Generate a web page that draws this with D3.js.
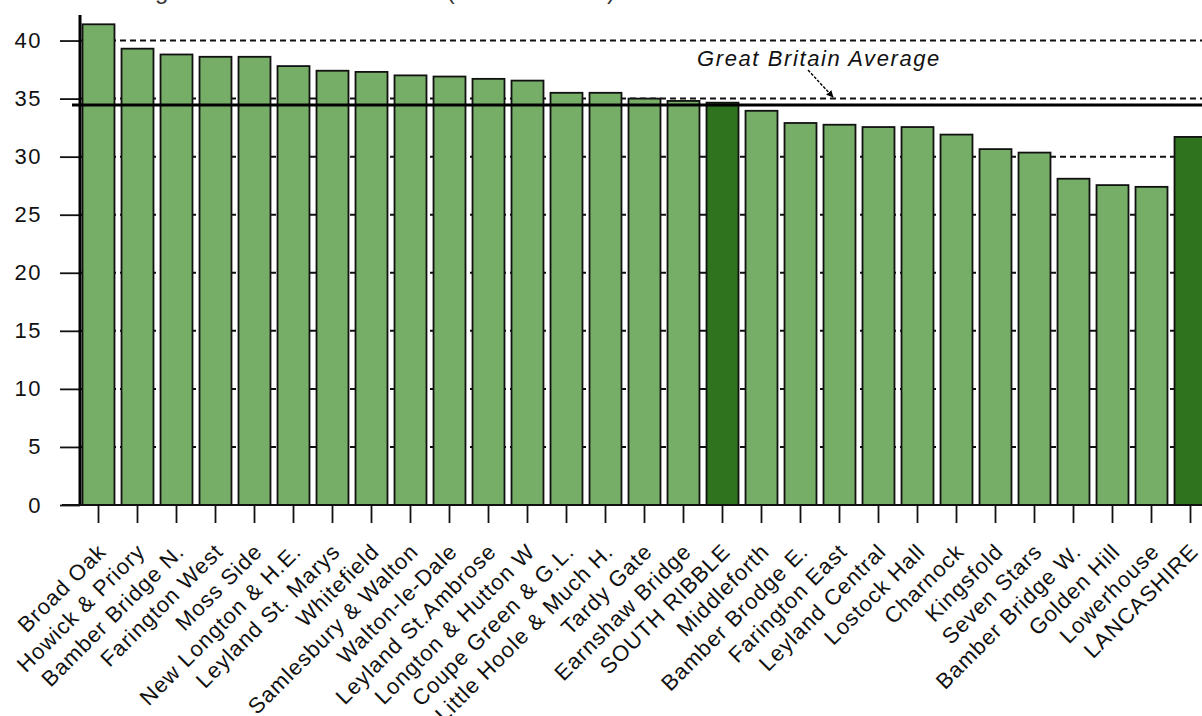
<!DOCTYPE html>
<html lang="en">
<head>
    <meta charset="UTF-8">
    <title>Average Household Income</title>
    <script src="https://d3js.org/d3.v7.min.js"></script>
    <style>
        body { margin: 0; background: white; }
        svg { display: block; font-family: "Liberation Sans", Arial, sans-serif; }
    </style>
</head>
<body>
    <div id="chart"></div>
    <script>
        // Wards (plus district and county) in the order shown
        var wards = ["Broad Oak", "Howick & Priory", "Bamber Bridge N.", "Farington West", "Moss Side",
            "New Longton & H.E.", "Leyland St. Marys", "Whitefield", "Samlesbury & Walton", "Walton-le-Dale",
            "Leyland St.Ambrose", "Longton & Hutton W", "Coupe Green & G.L.", "Little Hoole & Much H.",
            "Tardy Gate", "Earnshaw Bridge", "SOUTH RIBBLE", "Middleforth", "Bamber Brodge E.",
            "Farington East", "Leyland Central", "Lostock Hall", "Charnock", "Kingsfold", "Seven Stars",
            "Bamber Bridge W.", "Golden Hill", "Lowerhouse", "LANCASHIRE"];

        // Average household income, thousands of pounds
        var income = [41.4, 39.3, 38.8, 38.6, 38.6, 37.8, 37.4, 37.3, 37.0, 36.9,
            36.7, 36.55, 35.5, 35.5, 35.0, 34.8, 34.65, 33.95, 32.9, 32.75,
            32.55, 32.55, 31.9, 30.65, 30.35, 28.1, 27.55, 27.4, 31.7];

        // Aggregate rows drawn in darker green
        var highlighted = ["SOUTH RIBBLE", "LANCASHIRE"];

        var yTicks = [0, 5, 10, 15, 20, 25, 30, 35, 40];
        var gbAverage = 34.45;

        var width = 1202, height = 716;
        var svg = d3.select("#chart").append("svg")
            .attr("width", width)
            .attr("height", height);

        var x = d3.scaleBand()
            .domain(wards)
            .range([79, 1210])
            .paddingInner(0.18)
            .paddingOuter(0.09);

        var y = d3.scaleLinear()
            .domain([0, 42.2])
            .range([505, 15]);

        // title, mostly cut off at the top
        svg.append("text")
            .attr("x", 80)
            .attr("y", -1)
            .attr("textLength", 535)
            .attr("lengthAdjust", "spacing")
            .style("font-size", "24px")
            .style("fill", "#333")
            .text("Average Household Income (£thousands)");

        // dashed gridlines behind the bars
        svg.append("g")
            .selectAll("line")
            .data(yTicks.filter(d => d > 0))
            .join("line")
            .attr("x1", 80)
            .attr("x2", width)
            .attr("y1", d => y(d))
            .attr("y2", d => y(d))
            .attr("stroke", "#111")
            .attr("stroke-width", 2)
            .attr("stroke-dasharray", "6,4");

        // bars
        svg.append("g")
            .selectAll("rect")
            .data(wards)
            .join("rect")
            .attr("x", d => x(d))
            .attr("y", (d, i) => y(income[i]))
            .attr("width", x.bandwidth())
            .attr("height", (d, i) => y(0) - y(income[i]))
            .attr("fill", d => highlighted.includes(d) ? "#2f731f" : "#76ae67")
            .attr("stroke", "#111")
            .attr("stroke-width", 1.8);

        // Great Britain average line
        svg.append("line")
            .attr("x1", 72)
            .attr("x2", width)
            .attr("y1", y(gbAverage))
            .attr("y2", y(gbAverage))
            .attr("stroke", "black")
            .attr("stroke-width", 3.2);

        // y axis
        var yAxis = svg.append("g")
            .attr("transform", "translate(80,0)")
            .call(d3.axisLeft(y).tickValues(yTicks).tickSize(20).tickPadding(18));
        yAxis.select(".domain").remove();
        yAxis.selectAll(".tick line").attr("stroke", "#111").attr("stroke-width", 1.8);
        yAxis.selectAll(".tick text")
            .style("font-size", "22px")
            .style("letter-spacing", "1.5px")
            .attr("fill", "#111")
            .attr("font-family", null);
        svg.append("line")
            .attr("x1", 80).attr("x2", 80)
            .attr("y1", y(0)).attr("y2", y(42.2))
            .attr("stroke", "black")
            .attr("stroke-width", 3);

        // x axis
        var xAxis = svg.append("g")
            .attr("transform", "translate(0," + y(0) + ")")
            .call(d3.axisBottom(x).tickSize(18).tickFormat(""));
        xAxis.select(".domain").remove();
        xAxis.selectAll(".tick line").attr("stroke", "#111").attr("stroke-width", 1.8);
        svg.append("line")
            .attr("x1", 62).attr("x2", width)
            .attr("y1", y(0)).attr("y2", y(0))
            .attr("stroke", "#111")
            .attr("stroke-width", 2);

        // rotated ward labels
        svg.append("g")
            .selectAll("text")
            .data(wards)
            .join("text")
            .attr("transform", d => "translate(" + (x(d) + x.bandwidth() / 2 + 9) + ",553) rotate(-45)")
            .attr("text-anchor", "end")
            .style("font-size", "22px")
            .style("letter-spacing", "1px")
            .style("fill", "#111")
            .text(d => d);

        // annotation
        svg.append("defs").append("marker")
            .attr("id", "arrow")
            .attr("viewBox", "0 0 10 10")
            .attr("refX", 9).attr("refY", 5)
            .attr("markerWidth", 5).attr("markerHeight", 5)
            .attr("orient", "auto")
            .append("path")
            .attr("d", "M0,0L10,5L0,10z")
            .attr("fill", "black");

        svg.append("text")
            .attr("x", 697)
            .attr("y", 66)
            .style("font-size", "22px")
            .style("font-style", "italic")
            .style("letter-spacing", "1.6px")
            .style("fill", "#111")
            .text("Great Britain Average");

        svg.append("line")
            .attr("x1", 808).attr("y1", 70)
            .attr("x2", 833).attr("y2", 97)
            .attr("stroke", "black")
            .attr("stroke-width", 1.4)
            .attr("stroke-dasharray", "3,1.5")
            .attr("marker-end", "url(#arrow)");
    </script>
</body>
</html>
